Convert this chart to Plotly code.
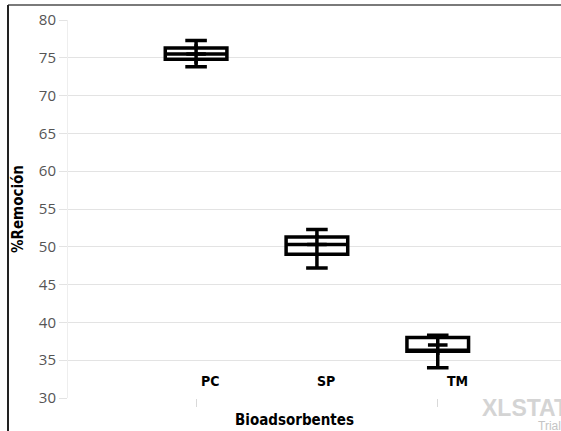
import plotly.graph_objects as go

categories = ["PC", "SP", "TM"]
positions = [1, 2, 3]
q1 = [74.8, 49.0, 36.2]
median = [75.5, 50.3, 36.3]
q3 = [76.3, 51.3, 38.0]
lower = [73.8, 47.2, 34.0]
upper = [77.3, 52.3, 38.3]
means = [75.5, 50.3, 37.0]
label_shift = [14, 9, 20]
y_ticks = [30, 35, 40, 45, 50, 55, 60, 65, 70, 75, 80]

COND = "Liberation Sans Narrow, DejaVu Sans Condensed, Arial Narrow, Liberation Sans, sans-serif"

fig = go.Figure()
fig.add_trace(go.Box(
    x=positions, q1=q1, median=median, q3=q3,
    lowerfence=lower, upperfence=upper,
    width=0.51, whiskerwidth=0.35,
    line=dict(color="black", width=3.5), fillcolor="white",
    boxpoints=False, showlegend=False, hoverinfo="skip",
))
fig.add_trace(go.Scatter(
    x=positions, y=means, mode="markers",
    marker=dict(symbol="cross-thin", size=14, line=dict(color="black", width=3.5)),
    showlegend=False, hoverinfo="skip",
))

for p, c, s in zip(positions, categories, label_shift):
    fig.add_annotation(x=p, y=32.3, text=f"<b>{c}</b>", showarrow=False, xshift=s,
                       font=dict(family=COND, size=14, color="black"))

fig.add_annotation(xref="paper", yref="paper", x=0.46, y=-0.058, text="<b>Bioadsorbentes</b>",
                   showarrow=False, yanchor="middle",
                   font=dict(family=COND, size=15, color="black"))
fig.add_annotation(xref="paper", yref="paper", x=0.836, y=-0.027, xanchor="left", yanchor="middle",
                   text="<b>XLSTAT</b>", showarrow=False,
                   font=dict(family="Liberation Sans, Arial, sans-serif", size=23, color="#d4d4d4"))
fig.add_annotation(xref="paper", yref="paper", x=0.95, y=-0.074, xanchor="left", yanchor="middle",
                   text="Trial", showarrow=False,
                   font=dict(family="Liberation Sans, Arial, sans-serif", size=12, color="#c4c4c4"))

# frame lines of the cropped picture
fig.add_shape(type="line", xref="paper", yref="paper", x0=-0.1217, x1=1.02, y0=1.0397, y1=1.0397,
              line=dict(color="#7a7a7a", width=2))
fig.add_shape(type="line", xref="paper", yref="paper", x0=-0.1217, x1=-0.1217, y0=1.0397, y1=-0.1,
              line=dict(color="#222222", width=2))

fig.update_layout(
    width=561, height=431,
    margin=dict(l=68, r=0, t=20, b=33),
    paper_bgcolor="white", plot_bgcolor="white",
    xaxis=dict(range=[-0.06, 4.02], tickvals=[1, 3], ticktext=["", ""], ticks="outside",
               ticklen=8, tickcolor="#d9d9d9", showgrid=False, zeroline=False, showline=False),
    yaxis=dict(range=[30, 80], tickvals=y_ticks, ticks="outside", ticklen=8, tickcolor="#e3e3e3",
               showgrid=True, gridcolor="#e3e3e3", gridwidth=1, zeroline=False,
               showline=True, linecolor="#eeeeee",
               tickfont=dict(family="Open Sans, sans-serif", size=15, color="#555555"),
               title=dict(text="<b>%Remoción</b>", standoff=11,
                          font=dict(family=COND, size=15, color="black"))),
)

fig.write_html("out.html", config={"displayModeBar": False},
               post_script="document.body.style.margin='0';document.body.style.overflow='hidden';")
